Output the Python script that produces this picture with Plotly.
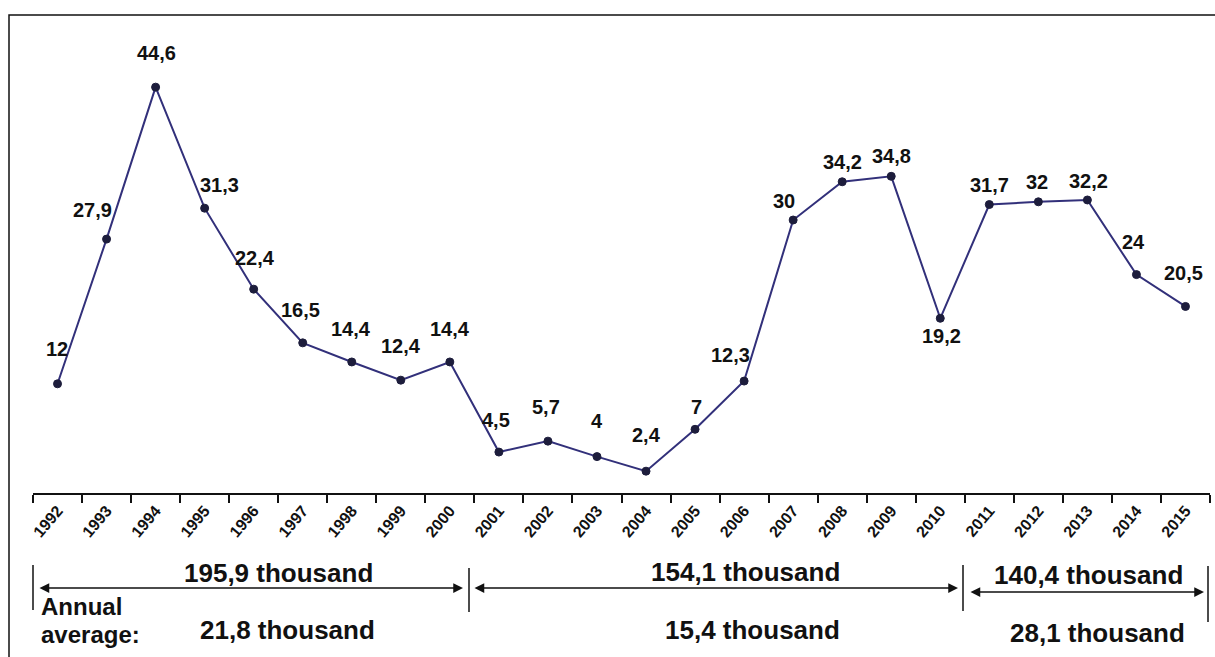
import plotly.graph_objects as go

years = ["1992", "1993", "1994", "1995", "1996", "1997", "1998", "1999", "2000",
         "2001", "2002", "2003", "2004", "2005", "2006", "2007", "2008", "2009",
         "2010", "2011", "2012", "2013", "2014", "2015"]
values = [12, 27.9, 44.6, 31.3, 22.4, 16.5, 14.4, 12.4, 14.4,
          4.5, 5.7, 4, 2.4, 7, 12.3, 30, 34.2, 34.8,
          19.2, 31.7, 32, 32.2, 24, 20.5]
# label offsets (x, y) in pixels relative to each point
label_dx = [-1, -14, 1, 15, 1, -2, -1, 0, 0, -3, -2, 0, 0, 1, -14, -9, 0, 0, 1, 0, -1, 1, -3, -2]
label_dy = [35, 29, 34, 23, 31, 33, 33, 34, 33, 32, 34, 36, 36, 22, 26, 19, 20, 20, -18, 20, 20, 19, 33, 33]

periods_total = ["195,9 thousand", "154,1 thousand", "140,4 thousand"]
periods_avg = ["21,8 thousand", "15,4 thousand", "28,1 thousand"]

W, H = 1215, 657
ML, MR, MT, MB = 33, 5, 38, 164
PW, PH = W - ML - MR, H - MT - MB


def px(x):
    return (x - ML) / PW


def py(y):
    return (H - MB - y) / PH


def fmt(v):
    s = ("%g" % v)
    return s.replace(".", ",")


fig = go.Figure()
fig.add_trace(go.Scatter(
    x=years, y=values, mode="lines+markers",
    line=dict(color="#32307a", width=2),
    marker=dict(size=8, color="#1d1d3c", line=dict(color="#1d1d3c", width=1)),
    hoverinfo="skip", showlegend=False,
))

ann = []
for i, (v, dx, dy) in enumerate(zip(values, label_dx, label_dy)):
    ann.append(dict(x=i, y=v, xref="x", yref="y", text="<b>%s</b>" % fmt(v),
                    showarrow=False, xshift=dx, yshift=dy,
                    font=dict(family="Liberation Sans, Arial", size=20, color="#111111")))

bfont = dict(family="Liberation Sans, Arial", size=26, color="#111111")
sfont = dict(family="Liberation Sans, Arial", size=24, color="#111111")
# period totals
for t, cx, cy in zip(periods_total, [278, 745, 1088], [573, 572, 575]):
    ann.append(dict(x=px(cx), y=py(cy), xref="paper", yref="paper", text="<b>%s</b>" % t,
                    showarrow=False, font=bfont, xanchor="center", yanchor="middle"))
for t, cx, cy in zip(periods_avg, [287, 752, 1097], [630, 630, 633]):
    ann.append(dict(x=px(cx), y=py(cy), xref="paper", yref="paper", text="<b>%s</b>" % t,
                    showarrow=False, font=bfont, xanchor="center", yanchor="middle"))
ann.append(dict(x=px(39), y=py(606), xref="paper", yref="paper", text="<b>Annual</b>",
                showarrow=False, font=sfont, xanchor="left", yanchor="middle"))
ann.append(dict(x=px(39), y=py(634), xref="paper", yref="paper", text="<b>average:</b>",
                showarrow=False, font=sfont, xanchor="left", yanchor="middle"))
# double-headed arrows
for x0, x1, yy in [(38, 463, 588), (473, 958, 588), (969, 1204, 592)]:
    ann.append(dict(x=px(x1), y=py(yy), xref="paper", yref="paper", text="",
                    showarrow=True, ax=-(x1 - x0), ay=0, axref="pixel", ayref="pixel",
                    arrowhead=2, arrowsize=1.3, arrowwidth=1.5, arrowcolor="#111111",
                    arrowside="end+start"))

shapes = []
for xx, y0, y1 in [(33, 565, 610), (469, 568, 612), (963, 565, 611), (1208, 566, 622)]:
    shapes.append(dict(type="line", xref="paper", yref="paper", x0=px(xx), x1=px(xx),
                       y0=py(y0), y1=py(y1), line=dict(color="#111111", width=1.5)))
shapes.append(dict(type="rect", xref="paper", yref="paper", x0=px(9), x1=px(1225),
                   y0=py(680), y1=py(15), line=dict(color="#111111", width=1.5)))

fig.update_layout(
    width=W, height=H, margin=dict(l=ML, r=MR, t=MT, b=MB),
    paper_bgcolor="white", plot_bgcolor="white",
    annotations=ann, shapes=shapes, showlegend=False,
    xaxis=dict(type="category", categoryorder="array", categoryarray=years,
               range=[-0.5, len(years) - 0.5], tickson="boundaries",
               ticks="outside", ticklen=8, tickwidth=1.5, tickcolor="#111111",
               showline=True, linewidth=2, linecolor="#111111", showgrid=False,
               tickangle=-50, tickfont=dict(family="Liberation Sans, Arial", size=16,
                                            color="#111111", weight="bold"),
               zeroline=False),
    yaxis=dict(range=[0, 50], visible=False, showgrid=False, zeroline=False),
)

fig.write_html("out.html", config={"displayModeBar": False},
               post_script="document.body.style.margin='0';")
